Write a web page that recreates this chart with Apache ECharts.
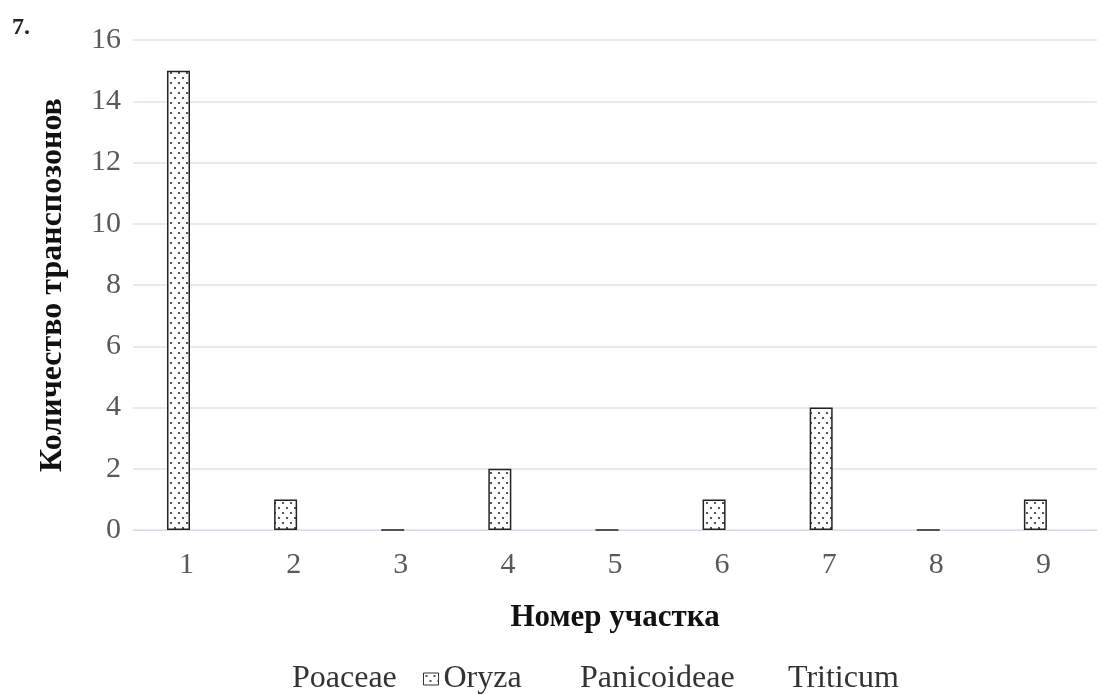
<!DOCTYPE html>
<html><head><meta charset="utf-8">
<script src="https://cdn.jsdelivr.net/npm/echarts@6/dist/echarts.min.js"></script>
<style>html,body{margin:0;padding:0;background:#fff}#c{width:1106px;height:695px}</style>
</head><body><div id="c"></div>
<script>
const categories = ['1','2','3','4','5','6','7','8','9'];
const seriesNames = ['Poaceae','Oryza','Panicoideae','Triticum'];
const poaceae = [0,0,0,0,0,0,0,0,0];
const oryza = [15,1,0,2,0,1,4,0,1];
const panicoideae = [0,0,0,0,0,0,0,0,0];
const triticum = [0,0,0,0,0,0,0,0,0];
const yTicks = {min:0, max:16, interval:2};
const xTitle = 'Номер участка';
const yTitle = 'Количество транспозонов';
const panelLabel = '7.';

const FONT = '"Liberation Serif","DejaVu Serif",serif';

const pc = document.createElement('canvas');
pc.width = 8; pc.height = 10;
const g = pc.getContext('2d');
g.fillStyle = '#fff'; g.fillRect(0,0,8,10);
g.fillStyle = '#555';
g.fillRect(2,2,2,2);
g.fillRect(6,7,2,2);
const dotFill = {image: pc, repeat: 'repeat'};

const chart = echarts.init(document.getElementById('c'), null, {renderer:'canvas'});
const hidden = {color:'rgba(0,0,0,0)', borderWidth:0};
const mk = (name, data, style) => ({
  name, type:'bar', data, barWidth:23, barGap:'-30%',
  itemStyle: style, emphasis:{disabled:true}, animation:false
});
const legendBase = {top:663, padding:0, itemHeight:12, itemWidth:15, textStyle:{fontFamily:FONT, fontSize:32, color:'#333'}, selectedMode:false};
chart.setOption({
  animation:false,
  backgroundColor:'#fff',
  grid:{left:133, right:9, top:40, bottom:165, containLabel:false},
  graphic:[{type:'text', left:12, top:16, style:{text:panelLabel, font:'bold 24px '+FONT, fill:'#222'}}],
  legend:[
    Object.assign({}, legendBase, {left:272, data:[{name:seriesNames[0], icon:'none'}]}),
    Object.assign({}, legendBase, {left:423, data:[{name:seriesNames[1], icon:'rect'}], itemStyle:{borderColor:'#333', borderWidth:1}}),
    Object.assign({}, legendBase, {left:560, data:[{name:seriesNames[2], icon:'none'}]}),
    Object.assign({}, legendBase, {left:768, data:[{name:seriesNames[3], icon:'none'}]})
  ],
  xAxis:{
    type:'category', data:categories,
    axisLine:{show:true, lineStyle:{color:'#d9dde3'}},
    axisTick:{show:false},
    axisLabel:{fontFamily:FONT, fontSize:30, color:'#595959', margin:20},
    name:xTitle, nameLocation:'middle', nameGap:72,
    nameTextStyle:{fontFamily:FONT, fontSize:31, fontWeight:'bold', color:'#111'}
  },
  yAxis:{
    type:'value', min:yTicks.min, max:yTicks.max, interval:yTicks.interval,
    axisLine:{show:false}, axisTick:{show:false},
    splitLine:{lineStyle:{color:'#dfe3e8', width:1.5}},
    axisLabel:{fontFamily:FONT, fontSize:30, color:'#595959', margin:12},
    name:yTitle, nameLocation:'middle', nameGap:64, nameRotate:90,
    nameTextStyle:{fontFamily:FONT, fontSize:32, fontWeight:'bold', color:'#111'}
  },
  series:[
    mk(seriesNames[0], poaceae, hidden),
    mk(seriesNames[1], oryza, {color:dotFill, borderColor:'#222', borderWidth:1.5}),
    mk(seriesNames[2], panicoideae, hidden),
    mk(seriesNames[3], triticum, hidden)
  ]
});
</script></body></html>
